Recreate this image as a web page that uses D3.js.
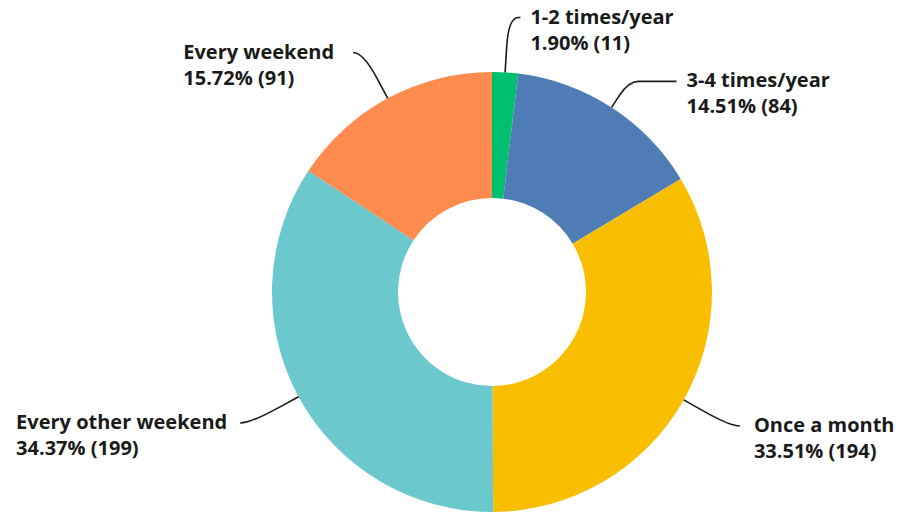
<!DOCTYPE html>
<html>
<head>
<meta charset="utf-8">
<script src="https://cdn.jsdelivr.net/npm/d3@7"></script>
<style>
	body { margin: 0; background: #fff; }
	svg text { font-family: "Open Sans", sans-serif; font-weight: 700; font-size: 20px; fill: #1a1a1a; }
</style>
</head>
<body>
<svg width="898" height="514"></svg>
<script>
// answer categories, clockwise from 12 o'clock
var categories = ["1-2 times/year", "3-4 times/year", "Once a month", "Every other weekend", "Every weekend"];
var counts = [11, 84, 194, 199, 91];
var percents = ["1.90%", "14.51%", "33.51%", "34.37%", "15.72%"];
var colors = ["#00BF6F", "#507CB6", "#F9BE00", "#6BC8CD", "#FF8B4F"];

var svg = d3.select("svg"),
	cx = 492,
	cy = 292,
	outerR = 220,
	innerR = 94;

// leader line layout per slice: radial reach, horizontal tail, gap to text
var leader = [
	{ reach: 55, tail: 12, gap: 10 },
	{ reach: 31, tail: 48, gap: 10 },
	{ reach: 53, tail: 10, gap: 14 },
	{ reach: 55, tail: 10, gap: 13 },
	{ reach: 52, tail: 10, gap: 19 }
];

var data = categories.map(function(c, i) {
	return { name: c, count: counts[i], pct: percents[i], color: colors[i], i: i };
});

var pie = d3.pie()
	.sort(null)
	.value(function(d) { return d.count; });

var arc = d3.arc()
	.innerRadius(innerR)
	.outerRadius(outerR);

var g = svg.append("g")
	.attr("transform", "translate(" + cx + "," + cy + ")");

var arcs = pie(data);

g.selectAll("path.slice")
	.data(arcs)
	.enter().append("path")
	.attr("class", "slice")
	.attr("d", arc)
	.attr("fill", function(d) { return d.data.color; });

arcs.forEach(function(d) {
	var a = (d.startAngle + d.endAngle) / 2,
		dx = Math.sin(a),
		dy = -Math.cos(a),
		L = leader[d.data.i],
		side = dx >= 0 ? 1 : -1;

	var start = [outerR * dx, outerR * dy],
		elbow = [(outerR + L.reach) * dx, (outerR + L.reach) * dy],
		end = [elbow[0] + side * L.tail, elbow[1]];

	var mid = [start[0] + (elbow[0] - start[0]) * 0.45, start[1] + (elbow[1] - start[1]) * 0.45],
		bendOut = [elbow[0] + side * Math.min(10, L.tail), elbow[1]];

	var path = d3.path();
	path.moveTo(start[0], start[1]);
	path.lineTo(mid[0], mid[1]);
	path.quadraticCurveTo(elbow[0], elbow[1], bendOut[0], bendOut[1]);
	path.lineTo(end[0], end[1]);

	g.append("path")
		.attr("d", path.toString())
		.attr("fill", "none")
		.attr("stroke", "#1a1a1a")
		.attr("stroke-width", 1.6);

	var label = g.append("text")
		.attr("y", end[1] + 6);
	var l1 = label.append("tspan").text(d.data.name);
	var l2 = label.append("tspan").attr("dy", 26).text(d.data.pct + " (" + d.data.count + ")");

	var x;
	if (side > 0) {
		x = end[0] + L.gap;
	} else {
		x = end[0] - L.gap - l1.node().getComputedTextLength();
	}
	l1.attr("x", x);
	l2.attr("x", x);
});
</script>
</body>
</html>
